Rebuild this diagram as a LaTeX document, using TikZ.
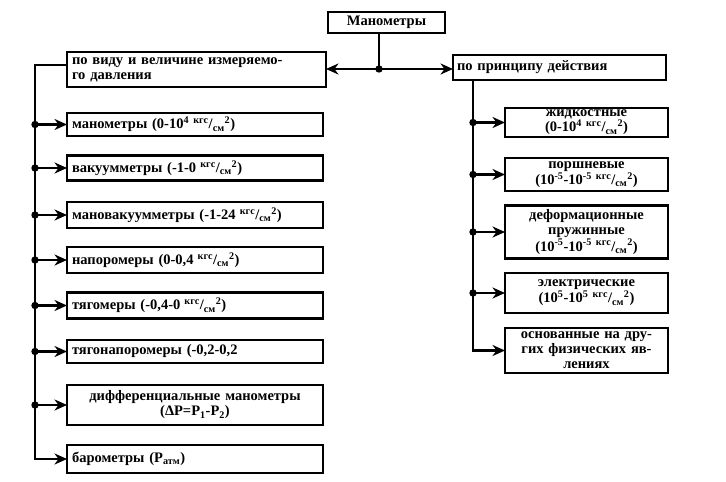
\documentclass[tikz,border=0pt]{standalone}
\usepackage{fontspec}
\setmainfont{Liberation Serif}
\usetikzlibrary{arrows.meta}
\newcommand{\kgsm}{\textsuperscript{\,кгс}/\textsubscript{см}\textsuperscript{2}}
\begin{document}
\begin{tikzpicture}[x=1pt,y=-1pt,
  font=\fontsize{14.5}{15}\selectfont\bfseries,
  box/.style={draw, line width=2.6pt, inner sep=0pt, outer sep=0pt},
  lbox/.style={box, minimum width=256pt, text width=246pt, align=left, anchor=west},
  rbox/.style={box, minimum width=163pt, text width=157pt, align=center, anchor=west},
  conn/.style={line width=2.4pt},
  arr/.style={conn, -{Stealth[length=12.5pt,width=11pt,inset=4pt]}},
  dot/.style={fill=black}]
\useasboundingbox (0,0) rectangle (726,482);

% top
\node[box, minimum width=117pt, minimum height=21pt, anchor=west] (top) at (328,22.5) {Манометры};
\node[box, minimum width=259pt, minimum height=35pt, text width=249pt, align=left, anchor=west] (lb) at (67,69.5)
  {по виду и величине измеряемо-\\го давления};
\node[box, minimum width=213pt, minimum height=25pt, text width=205pt, align=left, anchor=west] (rb) at (453,67.5)
  {по принципу действия};

\coordinate (J) at (379,69);
\draw[conn] (top.south -| J) -- (J);
\draw[arr] (J) -- (lb.east |- J);
\draw[arr] (J) -- (rb.west |- J);
\fill[dot] (J) circle (3.7pt);

% left column
\node[lbox, minimum height=23pt] (m1) at (67,124.5) {манометры (0-10\textsuperscript{4}\,\kgsm)};
\node[lbox, minimum height=25pt] (m2) at (67,168) {вакуумметры (-1-0\,\kgsm)};
\node[lbox, minimum height=26pt] (m3) at (67,215) {мановакуумметры (-1-24\,\kgsm)};
\node[lbox, minimum height=26pt] (m4) at (67,260) {напоромеры (0-0,4\,\kgsm)};
\node[lbox, minimum height=26pt] (m5) at (67,305.5) {тягомеры (-0,4-0\,\kgsm)};
\node[lbox, minimum height=23pt] (m6) at (67,351.5) {тягонапоромеры (-0,2-0,2};
\node[lbox, minimum height=40pt, align=center] (m7) at (67,405) {дифференциальные манометры\\(ΔP=P\textsubscript{1}-P\textsubscript{2})};
\node[lbox, minimum height=28pt] (m8) at (67,459) {барометры (P\textsubscript{атм})};

\coordinate (LT) at (35,65);
\draw[arr] (lb.west |- LT) -- (LT) |- (m8.west);
\foreach \n in {m1,m2,m3,m4,m5,m6,m7}{
  \draw[arr] (\n.west -| LT) -- (\n.west);
  \fill[dot] (\n.west -| LT) circle (3.7pt);
}

% right column
\node[rbox, minimum height=29pt] (r1) at (505,122.5) {жидкостные\\(0-10\textsuperscript{4}\,\kgsm)};
\node[rbox, minimum height=33pt] (r2) at (505,174.5) {поршневые\\(10\textsuperscript{-5}-10\textsuperscript{-5}\,\kgsm)};
\node[rbox, minimum height=53pt] (r3) at (505,232) {деформационные\\пружинные\\(10\textsuperscript{-5}-10\textsuperscript{-5}\,\kgsm)};
\node[rbox, minimum height=40pt] (r4) at (505,293) {электрические\\(10\textsuperscript{5}-10\textsuperscript{5}\,\kgsm)};
\node[rbox, minimum height=45pt] (r5) at (505,350.5) {основанные на дру-\\гих физических яв-\\лениях};

\coordinate (RT) at (473,80);
\draw[arr] (rb.south -| RT) |- (r5.west);
\foreach \n in {r1,r2,r3,r4}{
  \draw[arr] (\n.west -| RT) -- (\n.west);
  \fill[dot] (\n.west -| RT) circle (3.7pt);
}
\end{tikzpicture}
\end{document}
